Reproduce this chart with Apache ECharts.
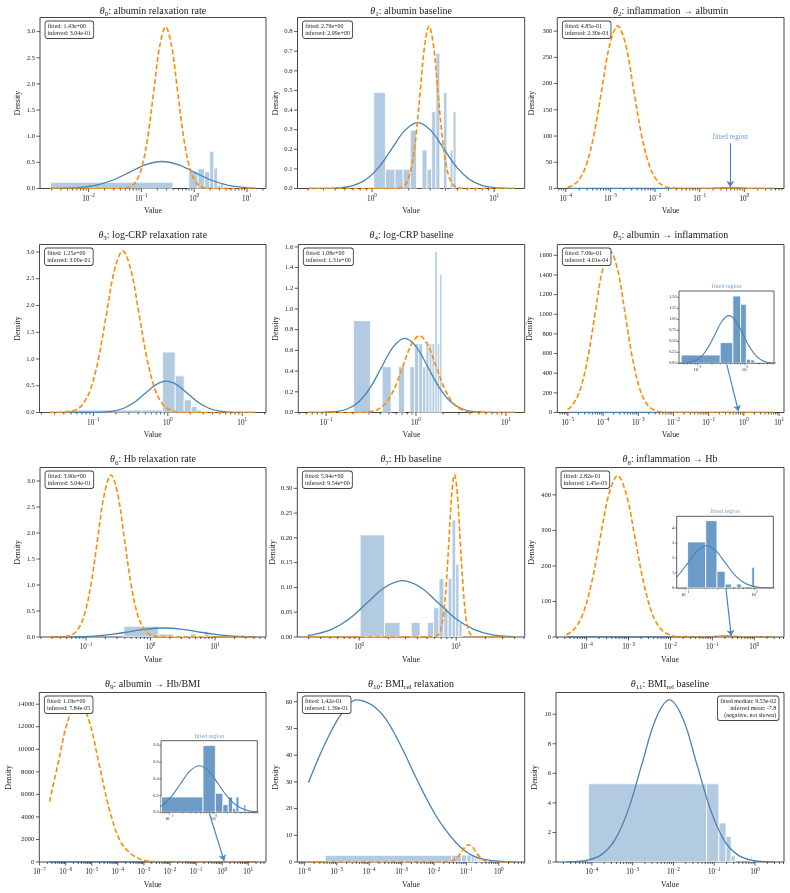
<!DOCTYPE html>
<html>
<head>
<meta charset="utf-8">
<script src="https://cdn.jsdelivr.net/npm/echarts@6.0.0/dist/echarts.min.js"></script>
<style>
  html, body { margin: 0; padding: 0; background: #fff; }
  #chart { width: 790px; height: 893px; }
</style>
</head>
<body>
<div id="chart"></div>
<script>
// panel titles (rich text) and the little text boxes
const titleRich = [
  '{t|θ}{s|0}{r|: albumin relaxation rate}',
  '{t|θ}{s|1}{r|: albumin baseline}',
  '{t|θ}{s|2}{r|: inflammation → albumin}',
  '{t|θ}{s|3}{r|: log-CRP relaxation rate}',
  '{t|θ}{s|4}{r|: log-CRP baseline}',
  '{t|θ}{s|5}{r|: albumin → inflammation}',
  '{t|θ}{s|6}{r|: Hb relaxation rate}',
  '{t|θ}{s|7}{r|: Hb baseline}',
  '{t|θ}{s|8}{r|: inflammation → Hb}',
  '{t|θ}{s|9}{r|: albumin → Hb/BMI}',
  '{t|θ}{s|10}{r|: BMI}{s|rel}{r| relaxation}',
  '{t|θ}{s|11}{r|: BMI}{s|rel}{r| baseline}'
];
const boxText = [
  'fitted: 1.43e+00\ninferred: 3.04e-01',
  'fitted: 2.79e+00\ninferred: 2.99e+00',
  'fitted: 4.85e-01\ninferred: 2.30e-03',
  'fitted: 1.25e+00\ninferred: 3.00e-01',
  'fitted: 1.08e+00\ninferred: 1.31e+00',
  'fitted: 7.06e-01\ninferred: 4.01e-04',
  'fitted: 3.90e+00\ninferred: 3.04e-01',
  'fitted: 5.94e+00\ninferred: 9.54e+00',
  'fitted: 2.82e-01\ninferred: 1.45e-03',
  'fitted: 1.19e+00\ninferred: 7.84e-05',
  'fitted: 1.42e-01\ninferred: 1.39e-01',
  'fitted median: 9.53e-02\ninferred mean: -7.8\n(negative, not shown)'
];

// axis ranges
const xMin = [1.202e-3, 0.2455, 6.457e-5, 0.01884, 0.04898, 5.012e-6, 0.01936, 0.2301, 1.862e-5, 9.772e-8, 6.026e-7, 1.318e-5];
const xMax = [22.91, 17.78, 7.762, 20.89, 16.22, 13.8, 61.66, 50.82, 5.129, 47.86, 6.31, 5.129];
const yMax = [3.27, 0.872, 326, 3.14, 1.623, 1710, 3.26, 0.342, 477, 15040, 63.5, 11.47];
const yStep = [0.5, 0.1, 50, 0.5, 0.2, 200, 0.5, 0.05, 100, 2000, 10, 2];
const yDec = [1, 1, 0, 1, 1, 0, 1, 2, 0, 0, 0, 0];

// histograms: [bin start, bin end, density]
const hist0 = [[0.0019,0.396,0.121],[0.396,0.79,0],[0.79,1.18,0.32],[1.18,1.58,0.38],[1.58,1.97,0.32],[1.97,2.36,0.71],[2.36,2.76,0.39],[2.76,3.15,0.06],[3.15,3.55,0.1],[3.55,3.94,0.03],[3.94,4.34,0.03]];
const hist1 = [[1.032,1.288,0.49],[1.288,1.544,0.098],[1.544,1.8,0.098],[1.8,2.056,0.098],[2.056,2.312,0.297],[2.312,2.568,0],[2.568,2.824,0.196],[2.824,3.08,0.098],[3.08,3.336,0.393],[3.336,3.592,0.69],[3.592,3.848,0],[3.848,4.104,0.49],[4.104,4.36,0],[4.36,4.616,0.196],[4.616,4.872,0.393]];
const hist2 = [[0.13,0.37,0.8],[0.37,0.6,1.5],[0.6,0.85,1.1],[0.85,1.1,0.3]];
const hist3 = [[0.041,0.446,0.045],[0.446,0.851,0.045],[0.851,1.256,1.13],[1.256,1.661,0.685],[1.661,2.066,0.236],[2.066,2.47,0.112],[2.47,2.875,0.045],[5.72,6.13,0.037]];
const hist4 = [[0.202,0.311,0.887],[0.311,0.42,0],[0.42,0.529,0.443],[0.529,0.638,0],[0.638,0.747,0.443],[0.747,0.856,0],[0.856,0.965,0.443],[0.965,1.074,0.665],[1.074,1.183,0.665],[1.183,1.292,0.443],[1.292,1.401,0.665],[1.401,1.51,0.665],[1.51,1.619,0.665],[1.619,1.728,1.555],[1.728,1.837,0.665],[1.837,1.946,1.333]];
const hist5 = [[0.045,0.3,0.189],[0.3,0.555,0.47],[0.555,0.81,1.53],[0.81,1.065,1.34],[1.065,1.32,0.09],[1.32,1.575,0.076]];
const hist6 = [[0.388,1.322,0.205],[1.322,2.256,0.058],[2.256,3.19,0.03],[3.19,4.124,0.03],[4.124,5.058,0.06],[5.058,5.992,0.03],[5.992,6.926,0.03],[6.926,7.86,0.11],[7.86,8.794,0.03]];
const hist7 = [[1.024,1.828,0.206],[1.828,2.632,0.0295],[2.632,3.436,0],[3.436,4.24,0.0295],[4.24,5.044,0],[5.044,5.848,0.0295],[5.848,6.652,0.059],[6.652,7.456,0.118],[7.456,8.26,0.059],[8.26,9.064,0.118],[9.064,9.868,0.236],[9.868,10.672,0.147],[10.672,11.476,0.0295]];
const hist8 = [[0.109,0.199,3.07],[0.199,0.289,4.49],[0.289,0.379,1.11],[0.379,0.469,0.26],[0.469,0.559,0],[0.559,0.649,0.26],[0.649,0.739,0],[0.739,0.829,0],[0.829,0.919,0],[0.919,1.009,1.38]];
const hist9 = [[0.068,0.57,0.183],[0.57,1.072,0.8],[1.072,1.574,0.227],[1.574,2.076,0.0915],[2.076,2.578,0.183],[2.578,3.08,0.044],[3.08,3.582,0.183],[3.582,4.084,0],[4.084,4.586,0],[4.586,5.088,0.09]];
const hist10 = [[4.4e-6,0.035,2.49],[0.035,0.07,2.5],[0.07,0.105,2.6],[0.105,0.14,2.6],[0.14,0.175,2.5],[0.175,0.21,2.4],[0.21,0.245,2.3],[0.245,0.28,2.1],[0.28,0.315,1.9],[0.315,0.35,1.6],[0.35,0.385,1.5],[0.385,0.42,1.5],[0.42,0.455,1.4],[0.455,0.49,1.4],[0.49,0.525,1.3],[0.525,0.56,1.2],[0.56,0.595,1.2],[0.595,0.63,1.1],[0.63,0.665,1.0],[0.665,0.7,1.0],[0.7,0.735,0.9],[0.735,0.77,0.8]];
const hist11 = [[8.28e-5,0.0649,5.29],[0.0649,0.1298,5.29],[0.1298,0.1947,2.64],[0.1947,0.2596,1.73],[0.2596,0.3245,0.43],[0.779,0.844,0.44]];

// fitted-sample density (solid blue): [value, density]
const kde0 = [[1.88e-3,0.0013],[3.63e-3,0.0057],[7.33e-3,0.0227],[0.0148,0.0698],[0.0299,0.1675],[0.0603,0.313],[0.1216,0.455],[0.2455,0.516],[0.4955,0.455],[1.0,0.313],[2.018,0.1675],[4.074,0.0698],[8.222,0.0227],[14.62,0.0075]];
const kde1 = [[0.2985,0],[0.3365,0.0001],[0.4295,0.0007],[0.5483,0.0037],[0.6998,0.0148],[0.8933,0.0455],[1.14,0.1091],[1.455,0.2038],[1.858,0.2965],[2.371,0.336],[3.027,0.2965],[3.864,0.2038],[4.932,0.1091],[6.295,0.0455],[8.035,0.0148],[10.26,0.0037],[13.09,0.0007],[14.62,0.0003]];
const kde2 = [[1.096e-4,0],[0.01,0],[0.05,0.01],[0.1,0.09],[0.2,0.5],[0.33,1.0],[0.47,1.15],[0.7,0.95],[1.1,0.45],[2.0,0.08],[4.57,0]];
const kde3 = [[0.02588,0],[0.06855,0.0002],[0.09528,0.0013],[0.1324,0.0065],[0.1841,0.0257],[0.2559,0.0792],[0.3556,0.19],[0.4943,0.3548],[0.6871,0.5163],[0.955,0.585],[1.327,0.5163],[1.845,0.3548],[2.564,0.19],[3.565,0.0792],[4.955,0.0257],[6.887,0.0065],[9.572,0.0013],[15.14,0.0001]];
const kde4 = [[0.06375,0.0001],[0.06839,0.0002],[0.09226,0.0016],[0.1245,0.0079],[0.1679,0.0314],[0.2265,0.0969],[0.3055,0.2325],[0.4121,0.4343],[0.5559,0.6319],[0.7499,0.716],[1.012,0.6319],[1.365,0.4343],[1.841,0.2325],[2.483,0.0969],[3.35,0.0314],[4.519,0.0079],[6.095,0.0016],[8.222,0.0002],[12.46,0]];
const kde5 = [[9.84e-6,0],[0.01,0],[0.04467,0.003],[0.05943,0.012],[0.08356,0.0475],[0.1175,0.1465],[0.1652,0.3517],[0.2323,0.6568],[0.3266,0.9557],[0.4592,1.083],[0.6457,0.9557],[0.9078,0.6568],[1.276,0.3517],[1.795,0.1465],[2.523,0.0475],[3.548,0.012],[7.03,0]];
const kde6 = [[0.02793,0.0006],[0.04457,0.0019],[0.08082,0.0076],[0.1466,0.0234],[0.2657,0.0562],[0.4819,0.1049],[0.8739,0.1527],[1.585,0.173],[2.874,0.1527],[5.212,0.1049],[9.452,0.0562],[17.14,0.0234],[31.08,0.0076],[42.76,0.0037]];
const kde7 = [[0.2941,0.0032],[0.3412,0.005],[0.52,0.0154],[0.7925,0.0369],[1.208,0.069],[1.841,0.1003],[2.805,0.1137],[4.276,0.1003],[6.516,0.069],[9.931,0.0369],[15.14,0.0154],[23.07,0.005],[39.77,0.0008]];
const kde8 = [[3.289e-5,0],[0.01,0],[0.02,0.002],[0.04,0.076],[0.0586,0.34],[0.07834,0.803],[0.08249,0.9157],[0.1118,1.7103],[0.1515,2.4887],[0.2053,2.82],[0.2782,2.4887],[0.3771,1.7103],[0.511,0.9157],[0.6926,0.3815],[0.9387,0.1238],[1.272,0.0313],[1.724,0.0062],[2.904,0]];
const kde9 = [[2.427e-7,0],[0.005,0],[0.02,0.003],[0.04,0.022],[0.06871,0.078],[0.1099,0.1809],[0.1786,0.3378],[0.2904,0.4916],[0.4721,0.557],[0.7674,0.4916],[1.247,0.3378],[2.028,0.1809],[3.296,0.0754],[5.358,0.0245],[8.71,0.0062],[19.28,0]];
const kde10 = [[1.33e-6,29.8],[2.71e-6,38.9],[5.521e-6,47.0],[1.127e-5,53.9],[2.296e-5,58.9],[3.873e-5,60.75],[7.516e-5,60.1],[1.535e-4,57.9],[3.126e-4,53.9],[6.368e-4,47.6],[1.297e-3,40.2],[2.649e-3,32.1],[5.395e-3,24.6],[0.01099,17.7],[0.02244,12.1],[0.04571,7.5],[0.09311,4.0],[0.1897,1.9],[0.3873,0.9],[1.0,0.3],[3.02,0.05]];
const kde11 = [[2.366e-5,0.009],[3.589e-5,0.024],[7.762e-5,0.122],[1.679e-4,0.482],[3.631e-4,1.485],[7.852e-4,3.562],[1.698e-3,6.653],[3.673e-3,9.681],[7.943e-3,10.97],[0.01718,9.681],[0.03715,6.653],[0.08035,3.562],[0.1738,1.485],[0.3758,0.482],[0.8128,0.122],[1.758,0.024],[2.858,0.008]];

// inferred-parameter density (orange dashed): [value, density]
const prior0 = [[1.88e-3,0],[0.0366,0.001],[0.0474,0.0068],[0.0614,0.034],[0.0794,0.136],[0.1028,0.418],[0.133,1.003],[0.1722,1.874],[0.2228,2.727],[0.2884,3.09],[0.3733,2.727],[0.4831,1.874],[0.6252,1.003],[0.8091,0.418],[1.047,0.136],[1.355,0.034],[1.754,0.0068],[2.27,0.001],[14.6,0]];
const prior1 = [[0.2985,0],[1.52,0.0002],[1.65,0.0018],[1.791,0.0092],[1.944,0.0364],[2.11,0.1122],[2.292,0.2692],[2.487,0.5028],[2.701,0.7316],[2.931,0.829],[3.182,0.7316],[3.454,0.5028],[3.75,0.2692],[4.07,0.1122],[4.419,0.0364],[4.797,0.0092],[5.207,0.0018],[5.652,0.0002],[14.62,0]];
const prior2 = [[1.096e-4,2.2],[1.23e-4,3.4],[1.858e-4,13.6],[2.805e-4,41.9],[4.236e-4,100.7],[6.397e-4,188],[9.66e-4,273.6],[1.459e-3,310],[2.203e-3,273.6],[3.327e-3,188],[5.023e-3,100.7],[7.586e-3,41.9],[0.01146,13.6],[0.0173,3.4],[0.02612,0.68],[0.03945,0.1],[4.57,0]];
const prior3 = [[0.02588,0],[0.03266,0.001],[0.04207,0.0066],[0.0542,0.0335],[0.06982,0.1326],[0.08995,0.4087],[0.1159,0.9806],[0.1493,1.8316],[0.1923,2.6652],[0.2477,3.02],[0.3192,2.6652],[0.4111,1.8316],[0.5297,0.9806],[0.6823,0.4087],[0.879,0.1326],[1.132,0.0335],[1.459,0.0066],[1.879,0.001],[15.14,0]];
const prior4 = [[0.06375,0],[0.2028,0.0002],[0.2503,0.0016],[0.309,0.0082],[0.3815,0.0326],[0.471,0.1004],[0.5813,0.2409],[0.7178,0.45],[0.8861,0.6548],[1.094,0.742],[1.35,0.6548],[1.667,0.45],[2.058,0.2409],[2.541,0.1004],[3.137,0.0326],[3.873,0.0082],[4.781,0.0016],[5.902,0.0002],[12.46,0]];
const prior5 = [[9.84e-6,32],[1.334e-5,72],[2.188e-5,222],[3.589e-5,534],[5.888e-5,997],[9.661e-5,1451],[1.585e-4,1644],[2.6e-4,1451],[4.266e-4,997],[6.998e-4,534],[1.148e-3,222],[1.884e-3,72],[3.09e-3,18],[5.07e-3,3.6],[8.318e-3,0.5],[7.03,0]];
const prior6 = [[0.02793,0],[0.03631,0.001],[0.04607,0.0069],[0.05848,0.0346],[0.07422,0.1368],[0.09419,0.4216],[0.1195,1.0118],[0.1517,1.8899],[0.1925,2.7499],[0.2443,3.116],[0.3101,2.7499],[0.3936,1.8899],[0.4994,1.0118],[0.6339,0.4216],[0.8042,0.1368],[1.021,0.0346],[1.296,0.0069],[1.644,0.001],[42.76,0]];
const prior7 = [[0.2941,0],[5.689,0.0001],[6.075,0.0007],[6.486,0.0036],[6.925,0.0144],[7.396,0.0443],[7.898,0.1064],[8.433,0.1987],[9.006,0.2891],[9.616,0.3276],[10.27,0.2891],[10.96,0.1987],[11.71,0.1064],[12.5,0.0443],[13.35,0.0144],[14.26,0.0036],[15.22,0.0007],[16.26,0.0001],[39.77,0]];
const prior8 = [[3.289e-5,6.6],[4.898e-5,19.9],[7.943e-5,61.4],[1.288e-4,147.4],[2.089e-4,275.4],[3.388e-4,400.7],[5.495e-4,454],[8.913e-4,400.7],[1.445e-3,275.4],[2.344e-3,147.4],[3.802e-3,61.4],[6.166e-3,19.9],[0.01,5.0],[0.01622,1.0],[0.0263,0.14],[2.904,0]];
const prior9 = [[2.427e-7,5360],[5.035e-7,8673],[1.249e-6,12620],[3.105e-6,14300],[7.72e-6,12620],[1.919e-5,8673],[4.77e-5,4643],[1.186e-4,1935],[2.948e-4,800],[7.328e-4,250],[1.822e-3,60],[4.529e-3,10],[0.02,0],[19.28,0]];
const prior10 = [[1.33e-6,0],[0.0207,0.014],[0.02655,0.072],[0.03404,0.285],[0.04365,0.878],[0.05598,2.107],[0.07178,3.936],[0.09204,5.727],[0.118,6.49],[0.1514,5.727],[0.1941,3.936],[0.2489,2.107],[0.3192,0.878],[0.4093,0.285],[0.5248,0.072],[0.673,0.014],[3.02,0]];

// zoomed "fitted region" insets (panels 5, 8, 9)
const insetPanel = [5, 8, 9];
const insetXMin = [0.04036, 0.07586, 0.06637];
const insetXMax = [4.102, 1.879, 9.183];
const insetYMax = [1.644, 4.78, 0.856];
const insetYStep = [0.25, 1, 0.2];
const insetYDec = [2, 0, 1];
// arrows: from inset to fitted value, [x0, y0, x1, y1] in data units of the panel
const arrow2 = [0.485, 86, 0.485, 3];
const arrow5 = [0.3289, 484, 0.703, 12];
const arrow8 = [0.2113, 136, 0.282, 3];
const arrow9 = [0.3258, 4280, 1.19, 100];

const hists = [hist0, hist1, hist2, hist3, hist4, hist5, hist6, hist7, hist8, hist9, hist10, hist11];
const kdes = [kde0, kde1, kde2, kde3, kde4, kde5, kde6, kde7, kde8, kde9, kde10, kde11];
const priors = [prior0, prior1, prior2, prior3, prior4, prior5, prior6, prior7, prior8, prior9, prior10, null];
const arrows = {2: arrow2, 5: arrow5, 8: arrow8, 9: arrow9};

// layout (pixels)
const gLeft = [40, 297.5, 557.3, 39.5, 298.3, 557.3, 40, 297.3, 556, 39.3, 297.3, 556];
const colRight = [266, 524.7, 784];
const rowTop = [17.5, 244.5, 467.5, 692.5];
const rowH = [171, 168, 169.5, 169.5];
const titleY = [11, 235, 459.5, 684];
const yNameGap = [17.7, 17.3, 21.3, 17.7, 18, 23.7, 18, 20.7, 20, 26, 17, 17];
const insetBox = [[679, 291, 95, 72.3], [676.7, 516.3, 96.6, 71.7], [161, 740.7, 96.3, 71.6]];

const SERIF = '"Liberation Serif", "Times New Roman", serif';
const INK = '#222';
const BLUE = '#4682b4';
const ORANGE = '#ff8c00';

function powLabel(v) {
  const lg = Math.log10(v);
  const k = Math.round(lg);
  if (Math.abs(lg - k) > 1e-6) return '';
  return '{b|10}{s|' + (k < 0 ? '\u2212' + (-k) : k) + '}';
}
function yFormatter(step, dec) {
  return function (v) {
    const r = v / step;
    if (Math.abs(r - Math.round(r)) > 1e-6) return '';
    return v.toFixed(dec);
  };
}
function barItem(fill) {
  return function (params, api) {
    const h = api.value(2);
    if (!(h > 0)) return null;
    const a = api.coord([api.value(0), 0]);
    const b = api.coord([api.value(1), h]);
    return {
      type: 'rect',
      shape: { x: a[0], y: b[1], width: b[0] - a[0], height: a[1] - b[1] },
      style: { fill: fill, stroke: '#fff', lineWidth: 0.8 }
    };
  };
}
// matplotlib-like ticks: decades, 2..9 minors, outward y ticks
function tickItem(x0, x1, ym, ys, big) {
  return function (params, api) {
    const kids = [];
    const base = api.coord([x0, 0]);
    const maj = big ? 3.5 : 2, mnr = big ? 2 : 1.2;
    const st = { stroke: '#333', lineWidth: big ? 0.8 : 0.6 };
    for (let k = Math.floor(Math.log10(x0)); k <= Math.ceil(Math.log10(x1)); k++) {
      for (let m = 1; m <= 9; m++) {
        const v = m * Math.pow(10, k);
        if (v < x0 * 1.0001 || v > x1 / 1.0001) continue;
        const px = api.coord([v, 0])[0];
        kids.push({ type: 'line', shape: { x1: px, y1: base[1], x2: px, y2: base[1] + (m === 1 ? maj : mnr) }, style: st });
      }
    }
    for (let i = 0; i * ys <= ym + 1e-9; i++) {
      const py = api.coord([x0, i * ys])[1];
      kids.push({ type: 'line', shape: { x1: base[0], y1: py, x2: base[0] - maj, y2: py }, style: st });
    }
    return { type: 'group', children: kids };
  };
}

const grids = [], xAxes = [], yAxes = [], series = [], graphics = [];

function addAxes(g, left, top, w, h, x0, x1, ym, ys, dec, big) {
  grids.push({ left: left, top: top, width: w, height: h, show: true, borderColor: '#333',
    borderWidth: big ? 0.9 : 0.8, backgroundColor: big ? 'transparent' : '#fff', containLabel: false });
  const fs = big ? 7.2 : 4.6;
  xAxes.push({
    type: 'log', logBase: 10, gridIndex: g, min: x0, max: x1,
    name: big ? 'Value' : '', nameLocation: 'middle', nameGap: 18.5,
    nameTextStyle: { fontFamily: SERIF, fontSize: 7.8, color: INK },
    axisLine: { show: false }, axisTick: { show: false }, splitLine: { show: false },
    axisLabel: {
      formatter: powLabel, margin: big ? 5 : 2.5, color: INK,
      rich: {
        b: { fontFamily: SERIF, fontSize: fs, lineHeight: fs + 3.5, color: INK },
        s: { fontFamily: SERIF, fontSize: fs * 0.72, lineHeight: fs * 0.7, verticalAlign: 'top', color: INK }
      }
    }
  });
  yAxes.push({
    type: 'value', gridIndex: g, min: 0, max: ym, interval: ys,
    name: big ? 'Density' : '', nameLocation: 'middle', nameGap: big ? yNameGap[g] : 0,
    nameTextStyle: { fontFamily: SERIF, fontSize: 7.8, color: INK },
    axisLine: { show: false }, axisTick: { show: false }, splitLine: { show: false },
    axisLabel: { formatter: yFormatter(ys, dec), fontFamily: SERIF, fontSize: big ? 6.6 : 4.2, color: INK, margin: big ? 5 : 2.5 }
  });
  series.push({
    type: 'custom', xAxisIndex: g, yAxisIndex: g, clip: false, silent: true, z: 6,
    data: [[x0, 0]], renderItem: tickItem(x0, x1, ym, ys, big)
  });
}

// main panels
for (let i = 0; i < 12; i++) {
  const col = i % 3, row = Math.floor(i / 3);
  const left = gLeft[i], top = rowTop[row], w = colRight[col] - left, h = rowH[row];
  addAxes(i, left, top, w, h, xMin[i], xMax[i], yMax[i], yStep[i], yDec[i], true);
  series.push({ type: 'custom', xAxisIndex: i, yAxisIndex: i, clip: true, silent: true, z: 1,
    data: hists[i], renderItem: barItem('#b3cbe1') });
  const kdeSeries = { type: 'line', xAxisIndex: i, yAxisIndex: i, data: kdes[i], showSymbol: false, symbol: 'none',
    smooth: 0.35, clip: true, silent: true, z: 3, lineStyle: { color: BLUE, width: 1.3 } };
  if (arrows[i]) {
    const a = arrows[i];
    kdeSeries.markLine = {
      silent: true, symbol: ['none', 'arrow'], symbolSize: 6,
      lineStyle: { color: '#4a86b8', width: 1.2, type: 'solid' },
      label: i === 2
        ? { show: true, position: 'start', formatter: 'fitted region', color: '#6f9fca', fontFamily: SERIF, fontSize: 7.2, distance: 3 }
        : { show: false },
      data: [[{ coord: [a[0], a[1]] }, { coord: [a[2], a[3]] }]]
    };
  }
  series.push(kdeSeries);
  if (priors[i]) {
    series.push({ type: 'line', xAxisIndex: i, yAxisIndex: i, data: priors[i], showSymbol: false, symbol: 'none',
      smooth: 0.35, clip: true, silent: true, z: 4, lineStyle: { color: ORANGE, width: 1.6, type: [5, 2.5] } });
  }
  // title
  graphics.push({
    type: 'text', x: left + w / 2, y: titleY[row], z: 100,
    style: {
      text: titleRich[i], align: 'center', verticalAlign: 'middle',
      rich: {
        t: { fontFamily: SERIF, fontStyle: 'italic', fontSize: 10, lineHeight: 14, fill: INK },
        s: { fontFamily: SERIF, fontSize: 7, lineHeight: 6, verticalAlign: 'bottom', fill: INK },
        r: { fontFamily: SERIF, fontSize: 10, lineHeight: 14, fill: INK }
      }
    }
  });
  // value box
  const rightBox = i === 11;
  graphics.push({
    type: 'text', x: rightBox ? left + w - 5.5 : left + 5.5, y: top + 4, z: 100,
    style: {
      text: boxText[i], fontFamily: SERIF, fontSize: 6, lineHeight: 7, fill: INK,
      align: rightBox ? 'right' : 'left', verticalAlign: 'top',
      backgroundColor: '#fff', borderColor: '#444', borderWidth: 0.9, borderRadius: 2,
      padding: [1.5, 2.2, 1, 2.2]
    }
  });
}

// insets
for (let j = 0; j < 3; j++) {
  const g = 12 + j, p = insetPanel[j], b = insetBox[j];
  addAxes(g, b[0], b[1], b[2], b[3], insetXMin[j], insetXMax[j], insetYMax[j], insetYStep[j], insetYDec[j], false);
  series.push({ type: 'custom', xAxisIndex: g, yAxisIndex: g, clip: true, silent: true, z: 1,
    data: hists[p], renderItem: barItem('#6b9bc6') });
  series.push({ type: 'line', xAxisIndex: g, yAxisIndex: g, data: kdes[p], showSymbol: false, symbol: 'none',
    smooth: 0.35, clip: true, silent: true, z: 3, lineStyle: { color: BLUE, width: 1.1 } });
  graphics.push({
    type: 'text', x: b[0] + b[2] / 2, y: b[1] - 4.5, z: 100,
    style: { text: 'fitted region', fontFamily: SERIF, fontSize: 6, fill: '#6f9fca', align: 'center', verticalAlign: 'middle' }
  });
}

const chart = echarts.init(document.getElementById('chart'), null, { renderer: 'canvas' });
chart.setOption({
  backgroundColor: '#fff',
  animation: false,
  grid: grids,
  xAxis: xAxes,
  yAxis: yAxes,
  series: series,
  graphic: graphics
});
</script>
</body>
</html>
